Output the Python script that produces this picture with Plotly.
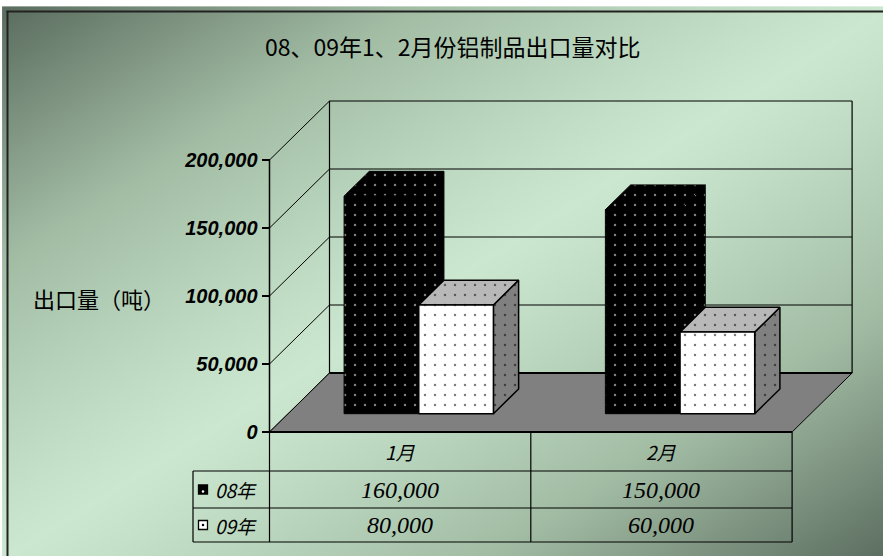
import numpy as np
import plotly.graph_objects as go

# ---------------- data ----------------
categories = ["1月", "2月"]
series_names = ["08年", "09年"]
values_08 = [160000, 150000]
values_09 = [80000, 60000]
y_ticks = [0, 50000, 100000, 150000, 200000]
y_tick_labels = ["0", "50,000", "100,000", "150,000", "200,000"]
chart_title = "08、09年1、2月份铝制品出口量对比"
y_title = "出口量（吨）"

# ---------------- layout constants (page pixels) ----------------
W, H = 883, 556
OFF = 0                        # page body margin removed by post_script
X0, CW = 269.5, 261.3          # px of first category start, px per category
Y0, K = 432.0, 68.0 / 50000    # px of value 0, px per tonne
DX = 60.0 / CW                 # depth offset in x units
DY = 59.0 / K                  # depth offset in value units
F0, F1 = 0.31, 0.73            # bar depth range (fraction of floor depth)
BW = 1.0 / 3.5                 # bar width (gap width 150%)
VMAX = y_ticks[-1]

CJK = "Noto Sans CJK SC"


def p2x(px):
    return (px - X0) / CW


def p2v(py):
    return (Y0 - py) / K


def py2paper(py):
    return 1 - (py - OFF) / H


def px2paper(px):
    return (px - OFF) / W


fig = go.Figure()

# ---------------- background gradient ----------------
gx = np.linspace(7, W + OFF, 90)
gy = np.linspace(11, H + OFF, 60)
GX, GY = np.meshgrid(gx, gy)
t = ((GX - 7) / (W - 7) + (GY - 11) / (H - 11)) / 2
Z = np.clip(np.abs(2 * t - 1), 0, 1) ** 1.15
fig.add_trace(go.Heatmap(
    x=[p2x(v) for v in gx], y=[p2v(v) for v in gy], z=Z,
    colorscale=[[0, "rgb(203,231,207)"], [0.5, "rgb(162,188,164)"], [1, "rgb(92,110,96)"]],
    zmin=0, zmax=1, zsmooth="best", showscale=False, hoverinfo="skip"))


def line(xs, ys, width=1.0, color="black", dash="solid"):
    fig.add_trace(go.Scatter(x=xs, y=ys, mode="lines",
                             line=dict(color=color, width=width, dash=dash),
                             hoverinfo="skip", showlegend=False))


# ---------------- walls ----------------
n_cat = len(categories)
for v in y_ticks:
    line([DX, n_cat + DX], [v + DY, v + DY], width=1.0)
for v in y_ticks:
    line([0, DX], [v, v + DY], width=1.0)
line([DX, DX], [DY, VMAX + DY], width=1.2)
line([n_cat + DX, n_cat + DX], [DY, VMAX + DY], width=1.2)

# ---------------- floor ----------------
fig.add_trace(go.Scatter(
    x=[0, n_cat, n_cat + DX, DX, 0], y=[0, 0, DY, DY, 0],
    mode="lines", fill="toself", fillcolor="#808080",
    line=dict(color="black", width=1), hoverinfo="skip", showlegend=False))
line([DX, n_cat + DX], [DY, DY], width=2)
line([0, n_cat], [0, 0], width=2.2)
line([0, 0], [0, VMAX], width=1.5)


# ---------------- bars ----------------
def face(xs, ys, bg, fg, lw, lc):
    fig.add_trace(go.Scatter(
        x=xs + [xs[0]], y=ys + [ys[0]], mode="lines", fill="toself",
        fillcolor=bg,
        fillpattern=dict(shape=".", bgcolor=bg, fgcolor=fg, size=10, solidity=0.05),
        line=dict(color=lc, width=lw), hoverinfo="skip", showlegend=False))


def box(a, b, v, front, top, side, fg, lw, lc):
    ox0, oy0 = F0 * DX, F0 * DY
    ox1, oy1 = F1 * DX, F1 * DY
    face([b + ox0, b + ox1, b + ox1, b + ox0], [oy0, oy1, v + oy1, v + oy0], side, fg, lw, lc)
    face([a + ox0, b + ox0, b + ox1, a + ox1], [v + oy0, v + oy0, v + oy1, v + oy1], top, fg, lw, lc)
    face([a + ox0, b + ox0, b + ox0, a + ox0], [oy0, oy0, v + oy0, v + oy0], front, fg, lw, lc)


for i in range(n_cat):
    a08 = i + 0.75 * BW
    a09 = a08 + BW
    box(a08, a08 + BW, values_08[i], "black", "black", "black", "white", 1, "black")
    box(a09, a09 + BW, values_09[i], "white", "#b8b8b8", "#808080", "black", 1.5, "black")

# ---------------- data table ----------------
shapes = []
tbl_left_px = 193
rows_px = [432, 471, 508, 542]


def hline(x0, x1, py, w=1.2):
    shapes.append(dict(type="line", xref="x", yref="paper", x0=x0, x1=x1,
                       y0=py2paper(py), y1=py2paper(py), line=dict(color="black", width=w)))


def vline(x, py0, py1, w=1.2):
    shapes.append(dict(type="line", xref="x", yref="paper", x0=x, x1=x,
                       y0=py2paper(py0), y1=py2paper(py1), line=dict(color="black", width=w)))


for r in rows_px[1:]:
    hline(p2x(tbl_left_px), n_cat, r)
for i in range(n_cat + 1):
    vline(i, rows_px[0], rows_px[3])
vline(p2x(tbl_left_px), rows_px[1], rows_px[3])

# outer chart border (top and left)
shapes.append(dict(type="line", xref="paper", yref="paper", x0=px2paper(6.5), x1=1,
                   y0=py2paper(11.5), y1=py2paper(11.5), line=dict(color="#222", width=2)))
shapes.append(dict(type="line", xref="paper", yref="paper", x0=px2paper(7.5), x1=px2paper(7.5),
                   y0=py2paper(11), y1=0, line=dict(color="#222", width=2)))

annotations = []
tfont = dict(family="Liberation Serif, " + CJK, size=24, color="black", style="italic")
cfont = dict(family=CJK, size=19, color="black", style="italic")
row_centers = [(rows_px[0] + rows_px[1]) / 2, (rows_px[1] + rows_px[2]) / 2, (rows_px[2] + rows_px[3]) / 2]
for i, c in enumerate(categories):
    annotations.append(dict(x=i + 0.5, y=py2paper(row_centers[0]), xref="x", yref="paper",
                            text=c, showarrow=False, font=cfont, xanchor="center", yanchor="middle"))
    annotations.append(dict(x=i + 0.5, y=py2paper(row_centers[1]), xref="x", yref="paper",
                            text=f"{values_08[i]:,}", showarrow=False, font=tfont,
                            xanchor="center", yanchor="middle"))
    annotations.append(dict(x=i + 0.5, y=py2paper(row_centers[2]), xref="x", yref="paper",
                            text=f"{values_09[i]:,}", showarrow=False, font=tfont,
                            xanchor="center", yanchor="middle"))

for r, name in enumerate(series_names):
    annotations.append(dict(x=p2x(213), y=py2paper(row_centers[r + 1]), xref="x", yref="paper",
                            text=name, showarrow=False, xanchor="left", yanchor="middle", font=cfont))

# legend keys
key_x = p2x(203)
fig.add_trace(go.Scatter(
    x=[key_x, key_x], y=[p2v(row_centers[1]), p2v(row_centers[2])], mode="markers",
    marker=dict(symbol="square", size=9, color=["black", "white"],
                line=dict(color="black", width=1.3)),
    hoverinfo="skip", showlegend=False))
fig.add_trace(go.Scatter(
    x=[key_x, key_x], y=[p2v(row_centers[1]) - 2 / K, p2v(row_centers[2])], mode="markers",
    marker=dict(symbol="circle", size=2.5, color=["white", "black"], line=dict(width=0)),
    hoverinfo="skip", showlegend=False))

# titles
annotations.append(dict(x=px2paper(453), y=py2paper(46), xref="paper", yref="paper",
                        text=chart_title, showarrow=False, xanchor="center", yanchor="middle",
                        font=dict(family=CJK, size=23, color="black")))
annotations.append(dict(x=px2paper(99), y=py2paper(298), xref="paper", yref="paper",
                        text=y_title, showarrow=False, xanchor="center", yanchor="middle",
                        font=dict(family=CJK, size=22, color="black")))

fig.update_layout(
    width=W, height=H, margin=dict(l=0, r=0, t=0, b=0),
    paper_bgcolor="white", plot_bgcolor="rgba(0,0,0,0)",
    showlegend=False, hovermode=False,
    xaxis=dict(range=[p2x(OFF), p2x(OFF + W)], visible=False, fixedrange=True),
    yaxis=dict(range=[p2v(OFF + H), p2v(OFF)], anchor="free", position=px2paper(X0),
               tickvals=y_ticks, ticktext=y_tick_labels, ticks="outside", ticklen=8,
               tickcolor="black", tickwidth=1.2, showgrid=False, zeroline=False,
               showline=False, automargin=False, fixedrange=True,
               tickfont=dict(family="Liberation Sans", size=20, color="black",
                             weight="bold", style="italic")),
    shapes=shapes, annotations=annotations,
)

fig.write_html(
    "out.html",
    config={"displayModeBar": False, "staticPlot": True},
    post_script="document.body.style.margin='0';document.documentElement.style.overflow='hidden';")
